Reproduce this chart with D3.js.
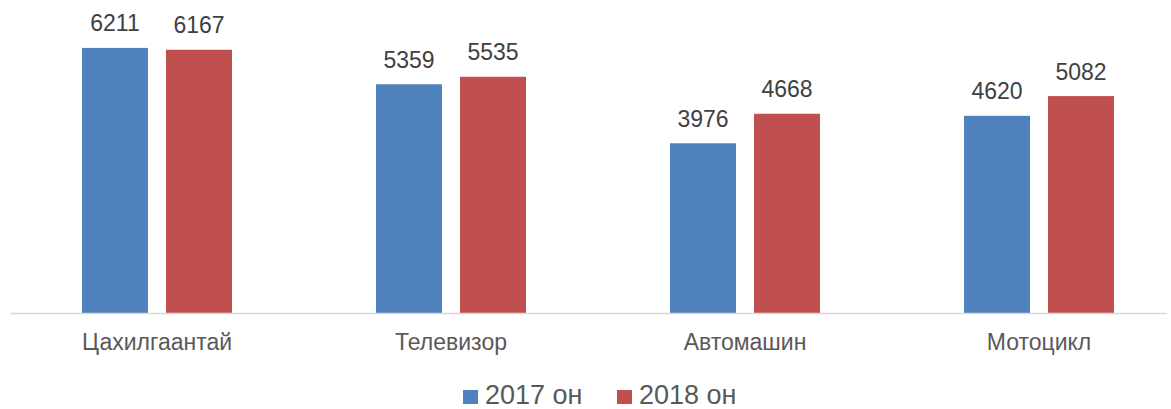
<!DOCTYPE html>
<html>
  <head>
    <title>Grouped bars</title>
    <script src="https://d3js.org/d3.v7.min.js"></script>
    <style>
      body { margin: 0; background: #fff; }
      text { font-family: "Liberation Sans", Arial, sans-serif; }
    </style>
  </head>
  <body>
    <svg width="1171" height="409"></svg>
    <script>
      const categories = ["Цахилгаантай", "Телевизор", "Автомашин", "Мотоцикл"];
      const seriesNames = ["2017 он", "2018 он"];
      const values2017 = [6211, 5359, 3976, 4620];
      const values2018 = [6167, 5535, 4668, 5082];
      const colors = ["#4f81bd", "#c0504d"];

      const svg = d3.select("svg");
      const baseY = 313;

      const data = categories.map((c, i) => ({
        category: c,
        values: [values2017[i], values2018[i]]
      }));

      const xScale = d3.scaleBand().domain(categories).range([10, 1186]);
      const xSub = d3.scaleBand().domain(d3.range(seriesNames.length))
        .range([0, xScale.bandwidth()])
        .paddingInner(18 / 84)
        .paddingOuter(72 / 84);
      const yScale = d3.scaleLinear().domain([0, 7000]).range([baseY, baseY - 7000 * 0.04268]);

      const groups = svg.selectAll("g.group").data(data)
        .enter().append("g")
          .attr("class", "group")
          .attr("transform", d => `translate(${xScale(d.category)},0)`);

      groups.selectAll("rect").data(d => d.values)
        .enter().append("rect")
          .attr("x", (d, i) => xSub(i))
          .attr("width", xSub.bandwidth())
          .attr("y", d => yScale(d))
          .attr("height", d => baseY - yScale(d))
          .attr("fill", (d, i) => colors[i]);

      groups.selectAll("text.value").data(d => d.values)
        .enter().append("text")
          .attr("class", "value")
          .attr("x", (d, i) => xSub(i) + xSub.bandwidth() / 2)
          .attr("y", d => yScale(d) - 16.5)
          .attr("text-anchor", "middle")
          .attr("font-size", 23)
          .attr("fill", "#404040")
          .text(d => d);

      // axis line
      svg.append("line")
        .attr("x1", 10).attr("x2", 1167)
        .attr("y1", baseY + 0.5).attr("y2", baseY + 0.5)
        .attr("stroke", "#d9d9d9")
        .attr("stroke-width", 1.5);

      const xAxis = svg.append("g")
        .attr("transform", `translate(0,${baseY})`)
        .call(d3.axisBottom(xScale).tickSize(0).tickPadding(21));
      xAxis.select(".domain").remove();
      xAxis.selectAll("text")
        .attr("font-size", 23)
        .attr("font-family", "Liberation Sans, Arial, sans-serif")
        .attr("fill", "#595959");

      // legend
      const legendX = [463, 617];
      const legend = svg.selectAll("g.legend").data(seriesNames)
        .enter().append("g")
          .attr("class", "legend")
          .attr("transform", (d, i) => `translate(${legendX[i]},0)`);
      legend.append("rect")
        .attr("x", 0).attr("y", 390)
        .attr("width", 15).attr("height", 14)
        .attr("fill", (d, i) => colors[i]);
      legend.append("text")
        .attr("x", 22).attr("y", 404)
        .attr("font-size", 27)
        .attr("fill", "#595959")
        .text(d => d);
    </script>
  </body>
</html>
